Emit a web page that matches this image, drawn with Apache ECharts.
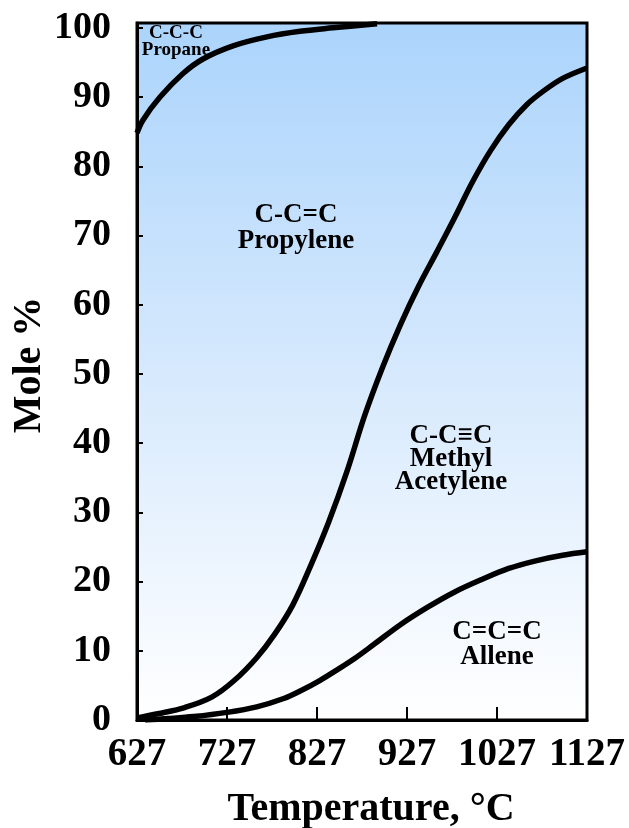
<!DOCTYPE html>
<html>
<head>
<meta charset="utf-8">
<script src="https://cdn.jsdelivr.net/npm/echarts@6/dist/echarts.min.js"></script>
<style>
html,body{margin:0;padding:0;background:#fff;}
#chart{width:629px;height:828px;}
</style>
</head>
<body>
<div id="chart"></div>
<script>
// ---- data ----
var xTicks = [627, 727, 827, 927, 1027, 1127];
var yTicks = [0, 10, 20, 30, 40, 50, 60, 70, 80, 90, 100];

var propaneT = [627, 633.7, 652.6, 678.1, 700.3, 733.7, 771.4, 808.1, 844.8, 893.7];
var propaneY = [84.8, 86.7, 90.0, 93.4, 95.5, 97.4, 98.7, 99.5, 100.0, 100.6];

var methylT = [627, 650, 680, 710, 735, 760, 780, 800, 820, 840, 860, 880, 900, 920, 940, 960, 980, 1000, 1020, 1040, 1060, 1080, 1100, 1127];
var methylY = [0.3, 0.9, 1.8, 3.3, 5.7, 9.0, 12.4, 16.6, 22.3, 28.6, 35.8, 44.0, 51.0, 57.2, 62.7, 67.6, 72.6, 77.8, 82.3, 86.0, 88.9, 91.0, 92.7, 94.2];

var alleneT = [636, 660, 690, 727, 760, 790, 810, 830, 850, 870, 890, 920, 950, 980, 1010, 1040, 1070, 1100, 1127];
var alleneY = [0, 0.2, 0.5, 1.1, 1.9, 3.1, 4.3, 5.7, 7.3, 9.0, 10.9, 13.8, 16.3, 18.5, 20.3, 21.9, 23.0, 23.8, 24.3];

var labelTexts = ['C-C-C\nPropane', 'C-C=C\nPropylene', 'C-C\u2261C\nMethyl\nAcetylene', 'C=C=C\nAllene'];
var labelT = [670.3, 803.7, 975.9, 1027];
var labelY = [98.0, 71.1, 37.7, 10.9];
var labelSizes = [19, 27, 27, 27];
var labelLineHeights = [17, 26, 23, 25];

function pairs(xs, ys) { return xs.map(function (x, i) { return [x, ys[i]]; }); }

var FONT = '"Liberation Serif","Times New Roman",serif';

var chart = echarts.init(document.getElementById('chart'), null, {renderer: 'canvas'});

var lineStyle = {color: '#000', width: 5.5};

var option = {
  animation: false,
  backgroundColor: '#ffffff',
  grid: {
    left: 137, right: 42, top: 23, bottom: 108,
    outerBoundsMode: 'none',
    containLabel: false,
    show: true,
    borderColor: '#000', borderWidth: 3,
    backgroundColor: new echarts.graphic.LinearGradient(0, 0, 0, 1, [
      {offset: 0, color: '#abd4fc'},
      {offset: 0.5, color: '#d6e9fd'},
      {offset: 1, color: '#ffffff'}
    ])
  },
  xAxis: {
    type: 'value', min: xTicks[0], max: xTicks[xTicks.length - 1], interval: 100,
    name: 'Temperature, \u00B0C', nameLocation: 'middle', nameGap: 70, nameMoveOverlap: false,
    nameTextStyle: {fontFamily: FONT, fontWeight: 'bold', fontSize: 40, color: '#000', padding: [0, 0, 0, 18]},
    axisLine: {show: true, lineStyle: {color: '#000', width: 3}},
    axisTick: {show: true, inside: true, length: 13, lineStyle: {color: '#000', width: 2}},
    axisLabel: {fontFamily: FONT, fontWeight: 'bold', fontSize: 39, color: '#000', margin: 15, hideOverlap: false,
      formatter: function (v) { return xTicks.indexOf(Math.round(v)) >= 0 ? String(Math.round(v)) : ''; }},
    splitLine: {show: false}
  },
  yAxis: {
    type: 'value', min: 0, max: 100.7, interval: 10,
    name: 'Mole %', nameLocation: 'middle', nameGap: 87, nameRotate: 90, nameMoveOverlap: false,
    nameTextStyle: {fontFamily: FONT, fontWeight: 'bold', fontSize: 40, color: '#000', padding: [0, 0, 0, 13]},
    axisLine: {show: true, lineStyle: {color: '#000', width: 3}},
    axisTick: {show: true, inside: true, length: 6, lineStyle: {color: '#000', width: 2}},
    axisLabel: {fontFamily: FONT, fontWeight: 'bold', fontSize: 38, color: '#000', margin: 26,
      formatter: function (v) { return yTicks.indexOf(v) >= 0 ? String(v) : ''; }},
    splitLine: {show: false}
  },
  series: [
    {name: 'Propane', type: 'line', data: pairs(propaneT, propaneY), smooth: 0.35, showSymbol: false, lineStyle: lineStyle, z: 3},
    {name: 'Methyl Acetylene', type: 'line', data: pairs(methylT, methylY), smooth: 0.35, showSymbol: false, lineStyle: lineStyle, z: 3},
    {name: 'Allene', type: 'line', data: pairs(alleneT, alleneY), smooth: 0.35, showSymbol: false, lineStyle: lineStyle, z: 3},
    {
      name: 'labels', type: 'scatter', symbolSize: 0, silent: true, z: 4,
      itemStyle: {opacity: 1, color: '#000'},
      data: labelTexts.map(function (t, i) {
        return {
          value: [labelT[i], labelY[i]],
          label: {
            show: true, position: 'inside', formatter: t, opacity: 1,
            fontFamily: FONT, fontWeight: 'bold', fontSize: labelSizes[i],
            lineHeight: labelLineHeights[i], color: '#000', align: 'center', verticalAlign: 'middle'
          }
        };
      })
    }
  ]
};
chart.setOption(option);
</script>
</body>
</html>
